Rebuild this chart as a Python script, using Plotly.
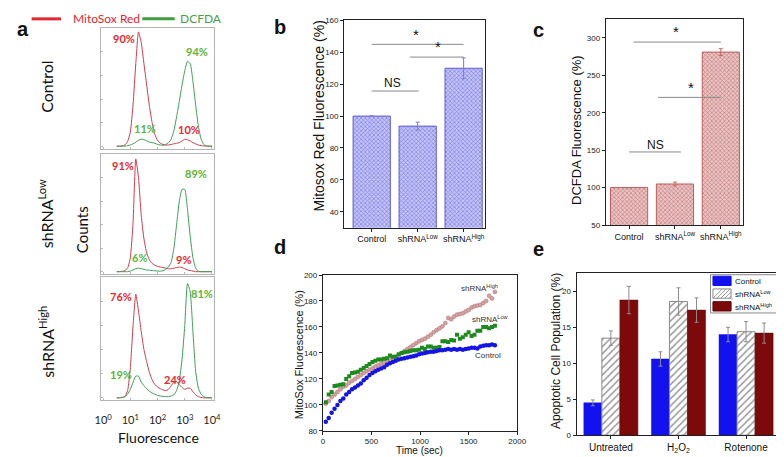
import plotly.graph_objects as go

W, H = 784, 457

# ---------------- data ----------------
# panel a: flow cytometry histograms (x = log10 fluorescence, y = relative counts)
fluor_log = [0.5, 0.6, 0.7, 0.8, 0.9, 1.0, 1.1, 1.2, 1.3, 1.4, 1.5, 1.6, 1.7, 1.8,
             1.9, 2.0, 2.1, 2.2, 2.3, 2.4, 2.5, 2.6, 2.7, 2.8, 2.9, 3.0, 3.1, 3.2,
             3.3, 3.4, 3.5, 3.6, 3.7, 3.8, 3.9, 4.0]
hist_rows = ["Control", "shRNA<sup>Low</sup>", "shRNA<sup>High</sup>"]
mitosox_counts = [
    [0, 0, 0.3, 1, 4, 12, 35, 70, 97, 88, 70, 52, 34, 20, 10, 5, 2.5, 1.5, 1, 1,
     1.5, 2, 2.5, 3, 4.5, 6, 5.5, 4.5, 3, 2, 1, 0.5, 0.2, 0, 0, 0],
    [0, 0, 0.3, 1, 3, 12, 42, 96, 80, 48, 28, 16, 10, 7, 5.5, 4.5, 4, 3.5, 3, 2.5,
     2.5, 3, 3.5, 4, 3.5, 2.5, 1.5, 1, 0.5, 0, 0, 0, 0, 0, 0, 0],
    [0, 0, 0.3, 1, 6, 25, 60, 86, 72, 55, 40, 30, 21, 15, 11, 9, 7.5, 6.5, 6, 7,
     10, 13, 13.5, 11, 8.5, 7, 8, 8, 5, 2.5, 1, 0.3, 0, 0, 0, 0],
]
dcfda_counts = [
    [0, 0, 0, 0, 0.5, 1, 2, 3.5, 5, 6, 5.5, 4.5, 3.5, 3, 2.5, 1.5, 1, 0.8, 1.5, 3,
     6, 13, 25, 38, 52, 64, 72, 70, 55, 35, 17, 6, 1.5, 0.3, 0, 0],
    [0, 0, 0, 0, 0, 0.5, 1.5, 2.5, 3, 2.5, 2, 1.5, 1.2, 1, 0.8, 0.5, 0.5, 0.8, 2, 4,
     8, 20, 40, 60, 70, 70, 53, 30, 12, 3, 0.5, 0, 0, 0, 0, 0],
    [0, 0, 0.3, 1, 3, 7, 13, 18, 18, 13, 10, 7.5, 5.5, 4, 3, 2, 1.5, 1.2, 1, 1,
     1.5, 2.5, 6, 14, 32, 60, 95, 88, 55, 22, 8, 3, 1, 0, 0, 0],
]
mitosox_pct_high = ["90%", "91%", "76%"]
mitosox_pct_low = ["10%", "9%", "24%"]
dcfda_pct_high = ["94%", "89%", "81%"]
dcfda_pct_low = ["11%", "6%", "19%"]
flow_tickvals = [0, 1, 2, 3, 4]
flow_ticktext = ["10<sup>0</sup>", "10<sup>1</sup>", "10<sup>2</sup>", "10<sup>3</sup>", "10<sup>4</sup>"]

# panels b / c
groups_bc = ["Control", "shRNA<sup>Low</sup>", "shRNA<sup>High</sup>"]
mitosox_red_pct = [100, 93.7, 130]
mitosox_red_err = [0, 2.5, 6.5]
dcfda_pct = [100, 104.8, 281]
dcfda_err = [0, 2.5, 4.5]

# panel d: time course
time_sec = [30, 60, 90, 120, 150, 180, 210, 240, 270, 300, 330, 360, 390, 420, 450,
            480, 510, 540, 570, 600, 630, 660, 690, 720, 750, 780, 810, 840, 870, 900,
            930, 960, 990, 1020, 1050, 1080, 1110, 1140, 1170, 1200, 1230, 1260, 1290,
            1320, 1350, 1380, 1410, 1440, 1470, 1500, 1530, 1560, 1590, 1620, 1650,
            1680, 1710, 1740, 1770]
mitosox_control = [87, 90, 94, 97, 100, 103, 105, 108, 110, 112, 113.5, 115, 116.5, 119,
                   121, 123, 124.5, 126, 127, 128, 129, 131, 132, 133, 134, 135, 135.5,
                   136, 136.5, 137, 137.5, 138, 139, 139.5, 140, 140.5, 141, 141, 141.5,
                   142, 142, 142.5, 143, 142.5, 143, 142.5, 143, 142.5, 143, 143.5, 144,
                   144, 143.5, 145, 145.5, 146, 146, 146.5, 146]
mitosox_low = [102, 108, 110, 114.5, 115, 115.5, 116, 120, 122, 124.5, 125, 125.5, 127,
               128.5, 130, 131.5, 133, 134, 135, 135, 135.5, 136, 138, 137, 137, 139, 140,
               140.5, 141, 141.5, 142, 142, 142.5, 144, 143, 145, 145, 144, 144, 144.5,
               149, 149, 148.5, 150, 149.5, 154, 151, 152, 154, 156, 153, 154, 157, 157,
               160, 160, 159, 160, 161]
mitosox_high = [101, 103, 106, 108, 110, 112, 114, 115, 117, 118.5, 120, 121.5, 123,
                124.5, 126, 127, 128, 129.5, 130.5, 131.5, 132.5, 134, 135, 136, 137,
                138.5, 140, 141.5, 143, 144.5, 146, 147.5, 149, 150, 151, 152.5, 154, 156,
                157.5, 159, 160.5, 163, 167, 166, 168, 169.5, 170, 170.5, 172, 173, 175,
                176, 176.5, 177, 178.5, 180, 184, 182, 187]

# panel e: apoptosis
treatments = ["Untreated", "H<sub>2</sub>O<sub>2</sub>", "Rotenone"]
apop_series = ["Control", "shRNA<sup>Low</sup>", "shRNA<sup>High</sup>"]
apop_control = [4.5, 10.6, 14.0]
apop_control_err = [0.4, 1.0, 1.0]
apop_low = [13.5, 18.6, 14.4]
apop_low_err = [1.0, 1.9, 1.4]
apop_high = [18.8, 17.4, 14.2]
apop_high_err = [1.9, 1.7, 1.4]

# ---------------- layout helpers ----------------
def fx(px):
    return px / W

def fy(py):
    return 1 - py / H

ARIAL = "Liberation Sans, Arial, sans-serif"
GILL = "Lato, sans-serif"
RED_LINE = "#cc3d4f"
GREEN_LINE = "#3f9d5c"
RED_TXT = "#e8262c"
GREEN_TXT = "#5cb535"

annotations = []
shapes = []


def ann(x, y, text, xref="paper", yref="paper", size=10, family=ARIAL, color="#111",
        angle=0, xanchor="center", yanchor="middle"):
    if xref == "paper":
        x = fx(x)
    if yref == "paper":
        y = fy(y)
    annotations.append(dict(x=x, y=y, xref=xref, yref=yref, text=text, showarrow=False,
                            textangle=angle, xanchor=xanchor, yanchor=yanchor,
                            borderpad=0, font=dict(family=family, size=size, color=color)))


def prect(x0, y0, x1, y1, fill, line_color, line_width=1):
    shapes.append(dict(type="rect", xref="paper", yref="paper", x0=fx(x0), x1=fx(x1),
                       y0=fy(y1), y1=fy(y0), fillcolor=fill,
                       line=dict(color=line_color, width=line_width)))


fig = go.Figure()

# ---- panel a ----
hist_boxes = [(16.7, 139.3), (145, 267.3), (270.7, 396)]
pct_pos = [
    [(0.78, 91.7), (3.14, 14), (3.46, 80.6), (1.55, 15)],
    [(0.72, 90.2), (2.94, 10.2), (3.42, 83.3), (1.32, 12.4)],
    [(0.66, 84.3), (2.63, 15), (3.62, 87), (0.66, 19.2)],
]
for i in range(3):
    xa = "x" if i == 0 else f"x{i+1}"
    ya = "y" if i == 0 else f"y{i+1}"
    fig.add_trace(go.Scatter(x=fluor_log, y=mitosox_counts[i], mode="lines",
                             line=dict(color=RED_LINE, width=1, shape="spline", smoothing=0.5),
                             xaxis=xa, yaxis=ya, showlegend=False, hoverinfo="skip"))
    fig.add_trace(go.Scatter(x=fluor_log, y=dcfda_counts[i], mode="lines",
                             line=dict(color=GREEN_LINE, width=1, shape="spline", smoothing=0.5),
                             xaxis=xa, yaxis=ya, showlegend=False, hoverinfo="skip"))
    texts = [(mitosox_pct_high[i], RED_TXT), (mitosox_pct_low[i], RED_TXT),
             (dcfda_pct_high[i], GREEN_TXT), (dcfda_pct_low[i], GREEN_TXT)]
    for (t, c), (px_, py_) in zip(texts, pct_pos[i]):
        ann(px_, py_, f"<b>{t}</b>", xref=xa, yref=ya, size=11, family=GILL, color=c)
    top, bot = hist_boxes[i]
    ax_common = dict(showline=True, mirror=True, linecolor="#b5b5b5", linewidth=1,
                     showgrid=False, zeroline=False, ticks="inside", ticklen=2,
                     tickcolor="#bbbbbb")
    fig.layout[("xaxis" if i == 0 else f"xaxis{i+1}")] = dict(
        ax_common, domain=[fx(88.3), fx(203.3)], range=[-0.06, 4.08], anchor=ya,
        tickvals=flow_tickvals, ticktext=flow_ticktext,
        showticklabels=(i == 2), tickfont=dict(family=GILL, size=11, color="#222"),
        ticklabelstandoff=10)
    fig.layout[("yaxis" if i == 0 else f"yaxis{i+1}")] = dict(
        ax_common, domain=[fy(bot), fy(top)], range=[-2, 100], anchor=xa,
        dtick=20, showticklabels=False)

ann(32, 76, hist_rows[0], size=16, family=GILL, angle=-90)
ann(32, 206, hist_rows[1], size=16, family=GILL, angle=-90)
ann(32, 336, hist_rows[2], size=16, family=GILL, angle=-90)
ann(68, 222, "Counts", size=15, family=GILL, angle=-90)
ann(146, 434, "Fluorescence", size=14, family=GILL)
# legend of panel a
shapes.append(dict(type="line", xref="paper", yref="paper", x0=fx(17), x1=fx(47), y0=fy(7), y1=fy(7),
                   line=dict(color="#e0282e", width=3)))
shapes.append(dict(type="line", xref="paper", yref="paper", x0=fx(130), x1=fx(163), y0=fy(7), y1=fy(7),
                   line=dict(color="#3e9e3e", width=3)))
ann(58, 7, "MitoSox Red", size=12, family=GILL, color=RED_TXT, xanchor="left")
ann(167, 7, "DCFDA", size=12, family=GILL, color="#4aa04a", xanchor="left")

box_ax = dict(showline=True, mirror=True, linecolor="#222", linewidth=1, showgrid=False,
              zeroline=False, ticks="outside", ticklen=3, tickcolor="#222",
              tickfont=dict(family=ARIAL, size=8, color="#222"))

# ---- panel b ----
fig.add_trace(go.Bar(x=groups_bc, y=mitosox_red_pct, width=0.81, xaxis="x4", yaxis="y4",
                     error_y=dict(type="data", array=mitosox_red_err, color="#7a7ae0", thickness=1, width=2),
                     marker=dict(color="#aaaaf3", line=dict(color="#5a5ad8", width=1),
                                 pattern=dict(shape="x", size=3, solidity=0.35, fgcolor="#7272e6",
                                              bgcolor="#c4c4f8", fillmode="replace")),
                     showlegend=False, hoverinfo="skip"))
fig.layout.xaxis4 = dict(box_ax, domain=[fx(336), fx(480)], anchor="y4", range=[-0.6, 2.47],
                         tickangle=0, tickfont=dict(family=ARIAL, size=9, color="#111"))
fig.layout.yaxis4 = dict(box_ax, domain=[fy(220), fy(8.6)], anchor="x4", range=[30, 160], dtick=20)
ann(310, 106, "Mitosox Red Fluorescence (%)", size=14, angle=-90)
sig_b = [(0, 2, 145), (0.83, 2, 137), (0, 1.02, 115.7)]
for x0, x1, yv in sig_b:
    shapes.append(dict(type="line", xref="x4", yref="y4", x0=x0, x1=x1, y0=yv, y1=yv,
                       line=dict(color="#8a8a8a", width=1)))
ann(0.96, 145.5, "*", xref="x4", yref="y4", size=15, yanchor="bottom")
ann(1.45, 137.5, "*", xref="x4", yref="y4", size=15, yanchor="bottom")
ann(0.45, 120.5, "NS", xref="x4", yref="y4", size=12)

# ---- panel c ----
fig.add_trace(go.Bar(x=groups_bc, y=dcfda_pct, width=0.81, xaxis="x5", yaxis="y5",
                     error_y=dict(type="data", array=dcfda_err, color="#c06a6a", thickness=1, width=2),
                     marker=dict(color="#dba5a5", line=dict(color="#c05c5c", width=1),
                                 pattern=dict(shape="x", size=3, solidity=0.35, fgcolor="#c07575",
                                              bgcolor="#eac3c3", fillmode="replace")),
                     showlegend=False, hoverinfo="skip"))
fig.layout.xaxis5 = dict(box_ax, domain=[fx(603), fx(743)], anchor="y5", range=[-0.51, 2.48],
                         tickangle=0, tickfont=dict(family=ARIAL, size=9, color="#111"))
fig.layout.yaxis5 = dict(box_ax, domain=[fy(217.3), fy(7.3)], anchor="x5", range=[50, 325],
                         tickvals=[50, 100, 150, 200, 250, 300])
ann(573, 120, "DCFDA Fluorescence (%)", size=13, angle=-90)
sig_c = [(0.1, 2.0, 294.4), (0.63, 2.0, 220.5), (0, 1.13, 147.6)]
for x0, x1, yv in sig_c:
    shapes.append(dict(type="line", xref="x5", yref="y5", x0=x0, x1=x1, y0=yv, y1=yv,
                       line=dict(color="#8a8a8a", width=1)))
ann(1.02, 295.5, "*", xref="x5", yref="y5", size=15, yanchor="bottom")
ann(1.34, 221.5, "*", xref="x5", yref="y5", size=15, yanchor="bottom")
ann(0.57, 157, "NS", xref="x5", yref="y5", size=12)

# ---- panel d ----
fig.add_trace(go.Scatter(x=time_sec, y=mitosox_high, mode="markers", xaxis="x6", yaxis="y6",
                         marker=dict(symbol="circle", size=4, color="#d4a2a2",
                                     line=dict(color="#b87878", width=0.6)),
                         showlegend=False, hoverinfo="skip"))
fig.add_trace(go.Scatter(x=time_sec, y=mitosox_low, mode="markers", xaxis="x6", yaxis="y6",
                         marker=dict(symbol="square", size=4, color="#1f8a1f"),
                         showlegend=False, hoverinfo="skip"))
fig.add_trace(go.Scatter(x=time_sec, y=mitosox_control, mode="markers", xaxis="x6", yaxis="y6",
                         marker=dict(symbol="circle", size=4.5, color="#1414e6"),
                         showlegend=False, hoverinfo="skip"))
fig.layout.xaxis6 = dict(box_ax, domain=[fx(314.3), fx(512.7)], anchor="y6", range=[0, 2000], dtick=500)
fig.layout.yaxis6 = dict(box_ax, domain=[fy(427.3), fy(268.3)], anchor="x6", range=[80, 200], dtick=20)
ann(413, 447, "Time (sec)", size=10)
ann(290, 350, "MitoSox Fluorescence (%)", size=11, angle=-90)
ann(1615, 190, "shRNA<sup>High</sup>", xref="x6", yref="y6", size=8, color="#333")
ann(1721, 166, "shRNA<sup>Low</sup>", xref="x6", yref="y6", size=8, color="#333")
ann(1700, 137.8, "Control", xref="x6", yref="y6", size=8, color="#333")

# ---- panel e ----
err_e = dict(type="data", color="#8c8c8c", thickness=1, width=2)
e_colors = ["#1212f0", "white", "#7d0a0a"]
e_lines = ["#1212f0", "#8a8a8a", "#5a0505"]
fig.add_trace(go.Bar(x=treatments, y=apop_control, name=apop_series[0], xaxis="x7", yaxis="y7",
                     error_y=dict(err_e, array=apop_control_err), showlegend=False,
                     marker=dict(color=e_colors[0], line=dict(color=e_lines[0], width=0.5))))
fig.add_trace(go.Bar(x=treatments, y=apop_low, name=apop_series[1], xaxis="x7", yaxis="y7",
                     error_y=dict(err_e, array=apop_low_err), showlegend=False,
                     marker=dict(color=e_colors[1], line=dict(color=e_lines[1], width=1),
                                 pattern=dict(shape="/", size=5, solidity=0.3, fgcolor="#9a9a9a",
                                              bgcolor="white", fillmode="replace"))))
fig.add_trace(go.Bar(x=treatments, y=apop_high, name=apop_series[2], xaxis="x7", yaxis="y7",
                     error_y=dict(err_e, array=apop_high_err), showlegend=False,
                     marker=dict(color=e_colors[2], line=dict(color=e_lines[2], width=0.5))))
fig.layout.xaxis7 = dict(box_ax, domain=[fx(573.3), fx(781)], anchor="y7", range=[-0.507, 2.503],
                         tickangle=0, tickfont=dict(family=ARIAL, size=10, color="#111"))
fig.layout.yaxis7 = dict(box_ax, domain=[fy(431.7), fy(266.7)], anchor="x7", range=[0, 22.5], dtick=5)
ann(552, 346, "Apoptotic Cell Population (%)", size=12, angle=-90)

# compact legend box for panel e
prect(710, 268, 780, 307, "white", "#8a8a8a", 1)
legend_rows = [269.5, 282.5, 295.5]
for k, name in enumerate(apop_series):
    y0 = legend_rows[k]
    prect(712.5, y0, 731, y0 + 9.5, e_colors[k], e_lines[k], 1)
    if k == 1:
        hatch = ""
        for off in [0, 4, 8, 12, 16, 20]:
            xa0 = 712.5 + off
            xb0 = min(xa0 + 9.5, 731)
            ya0 = y0 + 9.5
            yb0 = ya0 - (xb0 - xa0)
            hatch += f"M{fx(xa0)},{fy(ya0)} L{fx(xb0)},{fy(yb0)} "
        shapes.append(dict(type="path", xref="paper", yref="paper", path=hatch,
                           line=dict(color="#9a9a9a", width=1)))
    ann(734, y0 + 5, name, size=8, xanchor="left")

# panel letters
for letter, (px_, py_) in [("a", (8, 17)), ("b", (271, 15)), ("c", (534, 18)),
                           ("d", (271, 240)), ("e", (534, 242))]:
    ann(px_, py_, f"<b>{letter}</b>", size=20)

fig.update_layout(
    width=W, height=H, margin=dict(l=0, r=0, t=0, b=0),
    paper_bgcolor="white", plot_bgcolor="white",
    font=dict(family=ARIAL, color="#111"),
    barmode="group", bargap=0.2, bargroupgap=0,
    showlegend=False,
    annotations=annotations, shapes=shapes,
)

fig.write_html("out.html")
